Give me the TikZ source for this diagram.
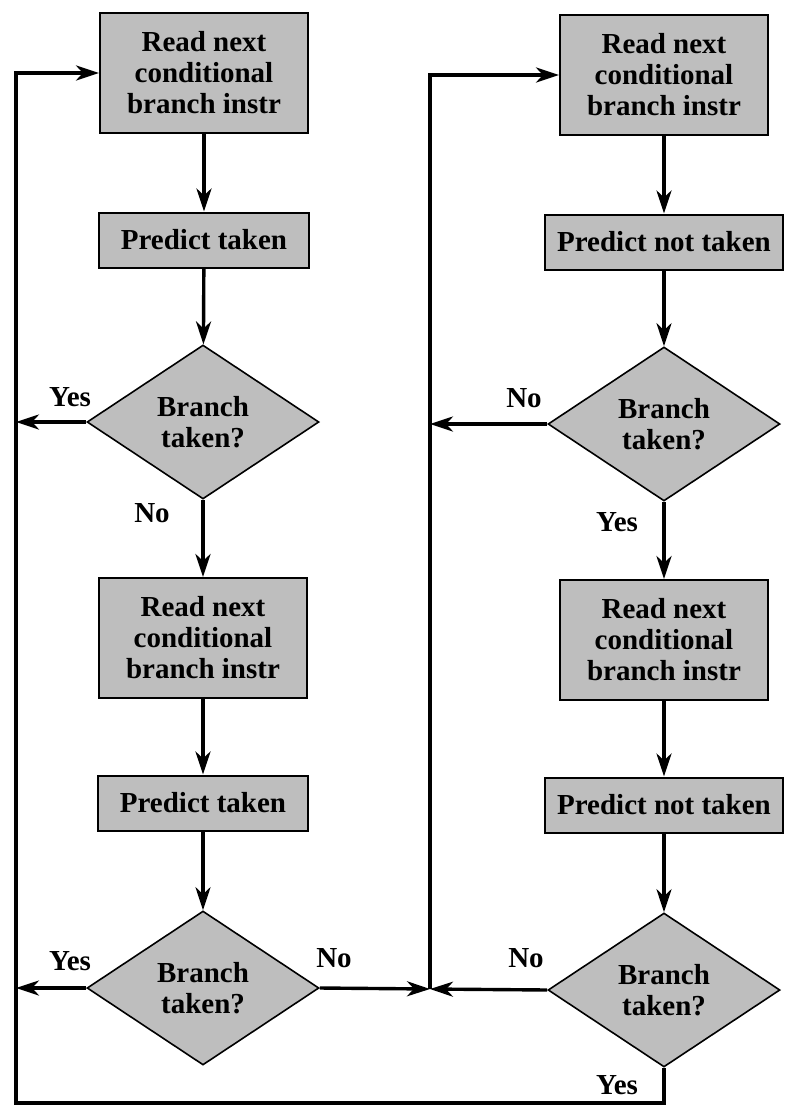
\documentclass[tikz,border=0pt]{standalone}
\usepackage{fontspec}
\setmainfont{Liberation Serif}
\usetikzlibrary{shapes.geometric,arrows.meta}
\definecolor{boxgray}{RGB}{190,190,190}
\begin{document}
\begin{tikzpicture}[x=1pt,y=-1pt,
  every node/.style={font=\fontsize{29}{31}\selectfont\bfseries},
  proc/.style={draw=black, line width=2pt, fill=boxgray, align=center,
               inner sep=0pt},
  tallbox/.style={proc, minimum width=208pt, minimum height=120pt},
  flatbox/.style={proc, minimum width=210pt, minimum height=55pt},
  widebox/.style={proc, minimum width=238pt, minimum height=55pt},
  decide/.style={diamond, draw=black, line width=1.6pt, fill=boxgray,
                 align=center, inner sep=0pt,
                 minimum width=232pt, minimum height=154pt},
  flow/.style={line width=3.4pt, -{Stealth[length=23pt,width=15pt,inset=7pt]}},
  tag/.style={inner sep=0pt}
]
\useasboundingbox (0,0) rectangle (785,1111);

% left column: predict taken
\node[tallbox] (r1) at (204,73)  {Read next\\conditional\\branch instr};
\node[flatbox] (p1) at (204,240) {Predict taken};
\node[decide]  (d1) at (203,422) {Branch\\taken?};
\node[tallbox] (r2) at (203,638) {Read next\\conditional\\branch instr};
\node[flatbox] (p2) at (203,803) {Predict taken};
\node[decide]  (d2) at (203,988) {Branch\\taken?};

% right column: predict not taken
\node[tallbox] (r3) at (664,75)  {Read next\\conditional\\branch instr};
\node[widebox] (p3) at (664,242) {Predict not taken};
\node[decide]  (d3) at (664,424) {Branch\\taken?};
\node[tallbox] (r4) at (664,640) {Read next\\conditional\\branch instr};
\node[widebox] (p4) at (664,805) {Predict not taken};
\node[decide]  (d4) at (664,990) {Branch\\taken?};

% routing points
\coordinate (loopx) at (16,0);
\coordinate (mid)   at (430,989);
\coordinate (floor) at (0,1103);

% straight-down flow in each column
\draw[flow] (r1) -- (p1);
\draw[flow] (p1) -- (d1);
\draw[flow] (d1) -- (r2);
\draw[flow] (r2) -- (p2);
\draw[flow] (p2) -- (d2);
\draw[flow] (r3) -- (p3);
\draw[flow] (p3) -- (d3);
\draw[flow] (d3) -- (r4);
\draw[flow] (r4) -- (p4);
\draw[flow] (p4) -- (d4);

% branches into the left return line
\draw[flow] (d1.west) -- (d1.west -| loopx);
\draw[flow] (d2.west) -- (d2.west -| loopx);

% branches into the middle return line
\draw[flow] (d3.west) -- (d3.west -| mid);
\draw[flow] (d2.east) -- (mid);
\draw[flow] (d4.west) -- (mid);
\draw[flow] (mid) -- (mid |- r3.west) -- (r3.west);

% outer loop back to the first column
\draw[flow] (d4.south) -- (d4.south |- floor) -- (floor -| loopx)
            -- (loopx |- r1.west) -- (r1.west);

% branch labels
\node[tag] (y1) at (70,397)  {Yes};
\node[tag] (n1) at (152,513) {No};
\node[tag] (n3) at (524,398) {No};
\node[tag] (y3) at (617,522) {Yes};
\node[tag] (y2) at (70,961)  {Yes};
\node[tag] (n2) at (334,958) {No};
\node[tag] (n4) at (526,958) {No};
\node[tag] (y4) at (617,1085) {Yes};
\end{tikzpicture}
\end{document}
